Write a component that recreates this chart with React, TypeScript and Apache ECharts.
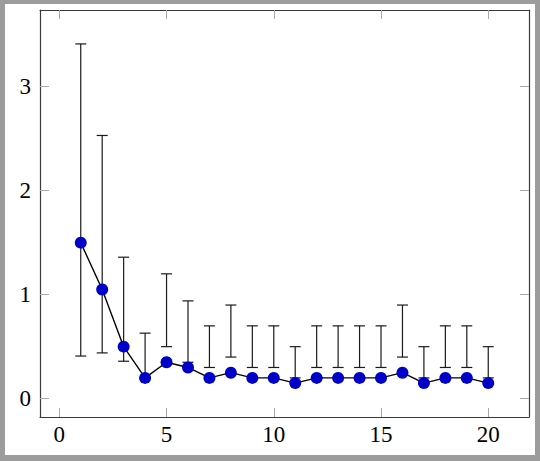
import React, { useEffect, useRef } from "react";
import * as echarts from "echarts";

const xValues = [1, 2, 3, 4, 5, 6, 7, 8, 9, 10, 11, 12, 13, 14, 15, 16, 17, 18, 19, 20];
const yValues = [1.5, 1.05, 0.5, 0.2, 0.35, 0.3, 0.2, 0.25, 0.2, 0.2, 0.15, 0.2, 0.2, 0.2, 0.2, 0.25, 0.15, 0.2, 0.2, 0.15];
const errLow = [0.41, 0.44, 0.36, 0.2, 0.5, 0.35, 0.3, 0.4, 0.3, 0.3, 0.2, 0.3, 0.3, 0.3, 0.3, 0.4, 0.2, 0.3, 0.3, 0.2];
const errHigh = [3.41, 2.53, 1.36, 0.63, 1.2, 0.94, 0.7, 0.9, 0.7, 0.7, 0.5, 0.7, 0.7, 0.7, 0.7, 0.9, 0.5, 0.7, 0.7, 0.5];
const xTicks = [0, 5, 10, 15, 20];
const yTicks = [0, 1, 2, 3];

const X_MIN = -0.9;
const X_MAX = 21.9;
const Y_MIN = -0.176;
const Y_MAX = 3.736;

export default function App() {
  const ref = useRef<HTMLDivElement>(null);
  useEffect(() => {
    if (!ref.current) return;
    const chart = echarts.init(ref.current, null, { renderer: "svg" });
    const font = "Liberation Serif";
    const axisLine = { show: true, onZero: false, lineStyle: { color: "#3a3a3a", width: 1.2 } };
    const tick = (vals: number[]) => ({
      show: true,
      inside: true,
      length: 9,
      customValues: vals,
      lineStyle: { color: "#a8a8a8", width: 1 },
    });
    const option: any = {
      animation: false,
      backgroundColor: "transparent",
      graphic: [
        { type: "rect", z: -100, shape: { x: 0, y: 0, width: 540, height: 461 }, style: { fill: "#9c9c9c" } },
        { type: "rect", z: -99, shape: { x: 5, y: 4, width: 530, height: 451 }, style: { fill: "#ffffff" } },
      ],
      grid: { left: 40, top: 10, right: 11, bottom: 44, containLabel: false },
      xAxis: [
        {
          type: "value",
          min: X_MIN,
          max: X_MAX,
          position: "bottom",
          axisLine,
          axisTick: tick(xTicks),
          splitLine: { show: false },
          axisLabel: {
            customValues: xTicks,
            color: "#000",
            fontFamily: font,
            fontSize: 23,
            margin: 6,
          },
        },
        {
          type: "value",
          min: X_MIN,
          max: X_MAX,
          position: "top",
          axisLine,
          axisTick: tick(xTicks),
          splitLine: { show: false },
          axisLabel: { show: false },
        },
      ],
      yAxis: [
        {
          type: "value",
          min: Y_MIN,
          max: Y_MAX,
          position: "left",
          axisLine,
          axisTick: tick(yTicks),
          splitLine: { show: false },
          axisLabel: {
            customValues: yTicks,
            color: "#000",
            fontFamily: font,
            fontSize: 23,
            margin: 9,
          },
        },
        {
          type: "value",
          min: Y_MIN,
          max: Y_MAX,
          position: "right",
          axisLine,
          axisTick: tick(yTicks),
          splitLine: { show: false },
          axisLabel: { show: false },
        },
      ],
      series: [
        {
          type: "custom",
          xAxisIndex: 0,
          yAxisIndex: 0,
          z: 1,
          encode: { x: 0, y: [1, 2] },
          data: xValues.map((x, i) => [x, errLow[i], errHigh[i]]),
          renderItem: (params: any, api: any) => {
            const x = api.value(0);
            const pLo = api.coord([x, api.value(1)]);
            const pHi = api.coord([x, api.value(2)]);
            const hw = 5.5;
            const style = { stroke: "#1a1a1a", lineWidth: 1.2 };
            return {
              type: "group",
              children: [
                { type: "line", shape: { x1: pLo[0], y1: pLo[1], x2: pHi[0], y2: pHi[1] }, style },
                { type: "line", shape: { x1: pLo[0] - hw, y1: pLo[1], x2: pLo[0] + hw, y2: pLo[1] }, style },
                { type: "line", shape: { x1: pHi[0] - hw, y1: pHi[1], x2: pHi[0] + hw, y2: pHi[1] }, style },
              ],
            };
          },
        },
        {
          type: "line",
          xAxisIndex: 0,
          yAxisIndex: 0,
          z: 3,
          data: xValues.map((x, i) => [x, yValues[i]]),
          symbol: "circle",
          symbolSize: 12,
          lineStyle: { color: "#000", width: 1.4 },
          itemStyle: { color: "#0000c8", borderWidth: 0 },
        },
      ],
    };
    chart.setOption(option);
    return () => chart.dispose();
  }, []);
  return (
    <div style={{ position: "absolute", left: 0, top: 0, width: 540, height: 461 }}>
      <div ref={ref} style={{ width: 540, height: 461 }} />
    </div>
  );
}
